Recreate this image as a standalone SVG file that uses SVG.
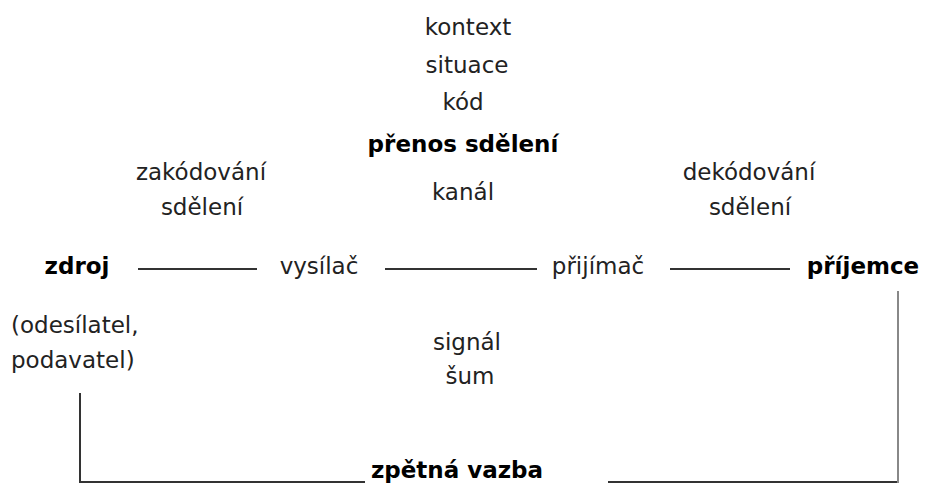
<svg xmlns="http://www.w3.org/2000/svg" width="951" height="491" viewBox="0 0 951 491">
  <style>
    text { font-family: "DejaVu Sans", Verdana, sans-serif; font-size: 23px; fill: #222; text-anchor: middle; }
    .b { font-weight: bold; fill: #000; }
    .l { text-anchor: start; }
    .ln { stroke: #333; stroke-width: 2; fill: none; }
    .lg { stroke: #888; stroke-width: 2; fill: none; }
  </style>
  <rect width="951" height="491" fill="#fff"/>

  <!-- transmission context -->
  <g id="prenos">
    <text x="468" y="35">kontext</text>
    <text x="467" y="73">situace</text>
    <text x="463" y="110">kód</text>
    <text class="b" x="463" y="152">přenos sdělení</text>
    <text x="463" y="200">kanál</text>
  </g>

  <g id="zakodovani">
    <text x="201" y="180">zakódování</text>
    <text x="202" y="215">sdělení</text>
  </g>

  <g id="dekodovani">
    <text x="749" y="180">dekódování</text>
    <text x="750" y="215">sdělení</text>
  </g>

  <g id="zdroj">
    <text class="b" x="77" y="274">zdroj</text>
    <text class="l" x="11" y="333">(odesílatel,</text>
    <text class="l" x="11" y="368">podavatel)</text>
  </g>

  <g id="vysilac">
    <text x="319" y="274">vysílač</text>
  </g>

  <g id="prijimac">
    <text x="598" y="274">přijímač</text>
  </g>

  <g id="prijemce">
    <text class="b" x="863" y="274">příjemce</text>
  </g>

  <g id="signal">
    <text x="467" y="350">signál</text>
    <text x="470" y="384">šum</text>
  </g>

  <g id="zpetna-vazba">
    <text class="b" x="457" y="478">zpětná vazba</text>
  </g>

  <!-- connectors -->
  <g id="connectors">
    <line class="ln" x1="138" y1="269" x2="257" y2="269"/>
    <line class="ln" x1="385" y1="269" x2="537" y2="269"/>
    <line class="ln" x1="670" y1="269" x2="790" y2="269"/>
    <polyline class="ln" points="80,393 80,482 365,482"/>
    <polyline class="ln" points="608,482 898,482"/>
    <line class="lg" x1="898" y1="291" x2="898" y2="483"/>
  </g>
</svg>
